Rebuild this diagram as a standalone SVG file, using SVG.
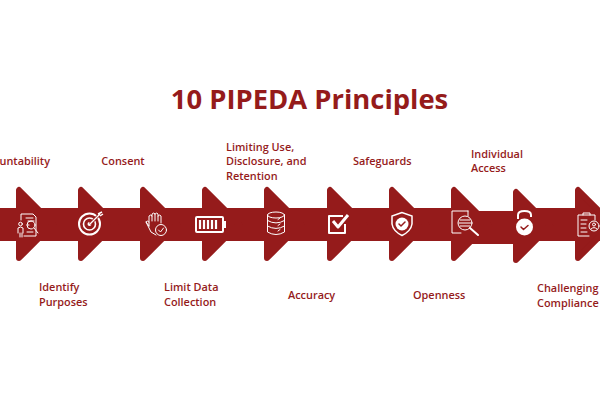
<svg xmlns="http://www.w3.org/2000/svg" width="600" height="400" viewBox="0 0 600 400">
<style>
.t{font-family:"Open Sans","Noto Sans",sans-serif;font-weight:700;fill:#951b1b}
.l{font-size:10.900px;font-weight:600}
.a{fill:#951b1b;stroke:#951b1b;stroke-width:6;stroke-linejoin:round}
.i{fill:none;stroke:#fff;stroke-width:1;stroke-linecap:round;stroke-linejoin:round}
.s{fill:none;stroke:#fff;stroke-width:2;stroke-linecap:round;stroke-linejoin:round}
.w{fill:#fff}
.d{fill:none;stroke:#951b1b;stroke-width:1.500;stroke-linecap:round;stroke-linejoin:round}
</style>
<rect width="600" height="400" fill="#fff"/>
<text class="t" x="309.500" y="109" font-size="27.400" text-anchor="middle">10 PIPEDA Principles</text>
<g id="connectors">
<rect x="0" y="208" width="470" height="33" fill="#951b1b"/>
<rect x="470" y="211" width="55" height="33" fill="#951b1b"/>
<rect x="525" y="208" width="75" height="33" fill="#951b1b"/>
</g>
<g id="n1"><path class="a" d="M19 190V258L53 224Z"/>
<g class="i"><path d="M21 220V214H33L36 217V236H24"/><path d="M26 218H33M28 221H34"/><circle cx="31" cy="225" r="4"/><path d="M34 228L38 233"/><circle cx="20.500" cy="224" r="1.800"/><path d="M18 233V228Q20.500 226 23 228V233M20 233V237M22 233V237"/><path d="M27 225H29M27 232H33"/></g>
<text class="t l" x="50" y="165" text-anchor="end">Accountability</text></g>
<g id="n2"><path class="a" d="M81 190V258L115 224Z"/>
<g class="s"><circle cx="89.500" cy="224" r="10.500"/><circle cx="89.500" cy="224" r="6" stroke-width="1.600"/></g><circle cx="89.500" cy="224" r="2" class="w"/><path d="M90 224L100 214" stroke="#951b1b" stroke-width="3"/><path d="M90 224L100 214M98 214L102 212M100 216L103 214" stroke="#fff" stroke-width="1.400"/>
<text class="t l" x="123" y="165" text-anchor="middle">Consent</text>
</g>
<g id="n3"><path class="a" d="M143 190V258L177 224Z"/>
<g class="i"><path d="M149 226V216Q151 214 152 216V221M152 216V214Q154 212 155 214V221M155 214Q157 212 158 214V221M158 216Q160 214 161 216V223M149 226L146 222Q147 220 149 222M146 222L151 232L156 235"/></g>
<circle cx="161" cy="230" r="5.500" class="i"/><path class="i" d="M158.500 230L160.500 232L163.500 228"/>
<text class="t l" x="39" y="291">Identify</text><text class="t l" x="39" y="306">Purposes</text>
</g>
<g id="n4"><path class="a" d="M205 190V258L239 224Z"/>
<rect x="196" y="217" width="27" height="15" rx="1" fill="none" stroke="#fff" stroke-width="2"/><rect x="223" y="221" width="3" height="7" class="w"/>
<path d="M200 220V229M204 220V229M208 220V229M212 220V229M216 220V229" stroke="#fff" stroke-width="2.200"/>
<text class="t l" x="164" y="291">Limit Data</text><text class="t l" x="164" y="306">Collection</text>
</g>
<g id="n5"><path class="a" d="M267 190V258L301 224Z"/>
<g class="i"><ellipse cx="276" cy="215" rx="8.500" ry="3"/><path d="M267.500 215V232Q276 237 284.500 232V215M267.500 220.500Q276 225.500 284.500 220.500M267.500 226Q276 231 284.500 226"/><path d="M278 219.500L280 218M278 225.500L280 224M278 231L280 229.500"/></g>
<text class="t l" x="226" y="151">Limiting Use,</text><text class="t l" x="226" y="165">Disclosure, and</text><text class="t l" x="226" y="180">Retention</text>
</g>
<g id="n6"><path class="a" d="M330 190V258L364 224Z"/>
<path d="M343 216H329V233H345V224" fill="none" stroke="#fff" stroke-width="2" stroke-linejoin="round"/><path d="M333 221L338 227L348 215" fill="none" stroke="#fff" stroke-width="3" stroke-linejoin="round"/>
<text class="t l" x="288" y="299">Accuracy</text>
</g>
<g id="n7"><path class="a" d="M392 190V258L426 224Z"/>
<path d="M402 212.500L392 216V224Q393 231 402 235.500Q411 231 412 224V216Z" fill="none" stroke="#fff" stroke-width="1.500"/><circle cx="402" cy="224" r="6.500" class="w"/><path class="d" d="M399 224L401 226L405 222"/>
<text class="t l" x="353" y="165">Safeguards</text>
</g>
<g id="n8"><path class="a" d="M454 190V258L488 224Z"/>
<g class="i"><path d="M468 211H452V233H461"/><path d="M468 211V216"/><circle cx="465" cy="223" r="7"/><path d="M460 220H470M459 223H471M460 226H470"/></g><path d="M470 228L478 235" stroke="#fff" stroke-width="2" stroke-linecap="round"/>
<text class="t l" x="413" y="299">Openness</text>
</g>
<g id="n9"><path class="a" d="M516 192V260L550 226Z"/>
<path d="M518 219V215Q518 211 524.500 211Q531 211 531 215V217" fill="none" stroke="#fff" stroke-width="2"/><circle cx="524.500" cy="227" r="8.500" class="w"/><path class="d" d="M521 227L523.500 229.500L528 225.500"/>
<text class="t l" x="471" y="158">Individual</text><text class="t l" x="471" y="172">Access</text>
</g>
<g id="n10"><path class="a" d="M578 190V258L600 236V212Z"/>
<g class="i"><path d="M589 236H578V215H595V220"/><path d="M583 215V213H590V215M581 220H587M581 224H586M581 228H586M581 232H587"/><circle cx="594" cy="226" r="5"/><circle cx="594" cy="224.500" r="1.500"/><path d="M591 229Q594 226 597 229"/></g>
<text class="t l" x="537" y="292">Challenging</text><text class="t l" x="537" y="307">Compliance</text>
</g>
</svg>
